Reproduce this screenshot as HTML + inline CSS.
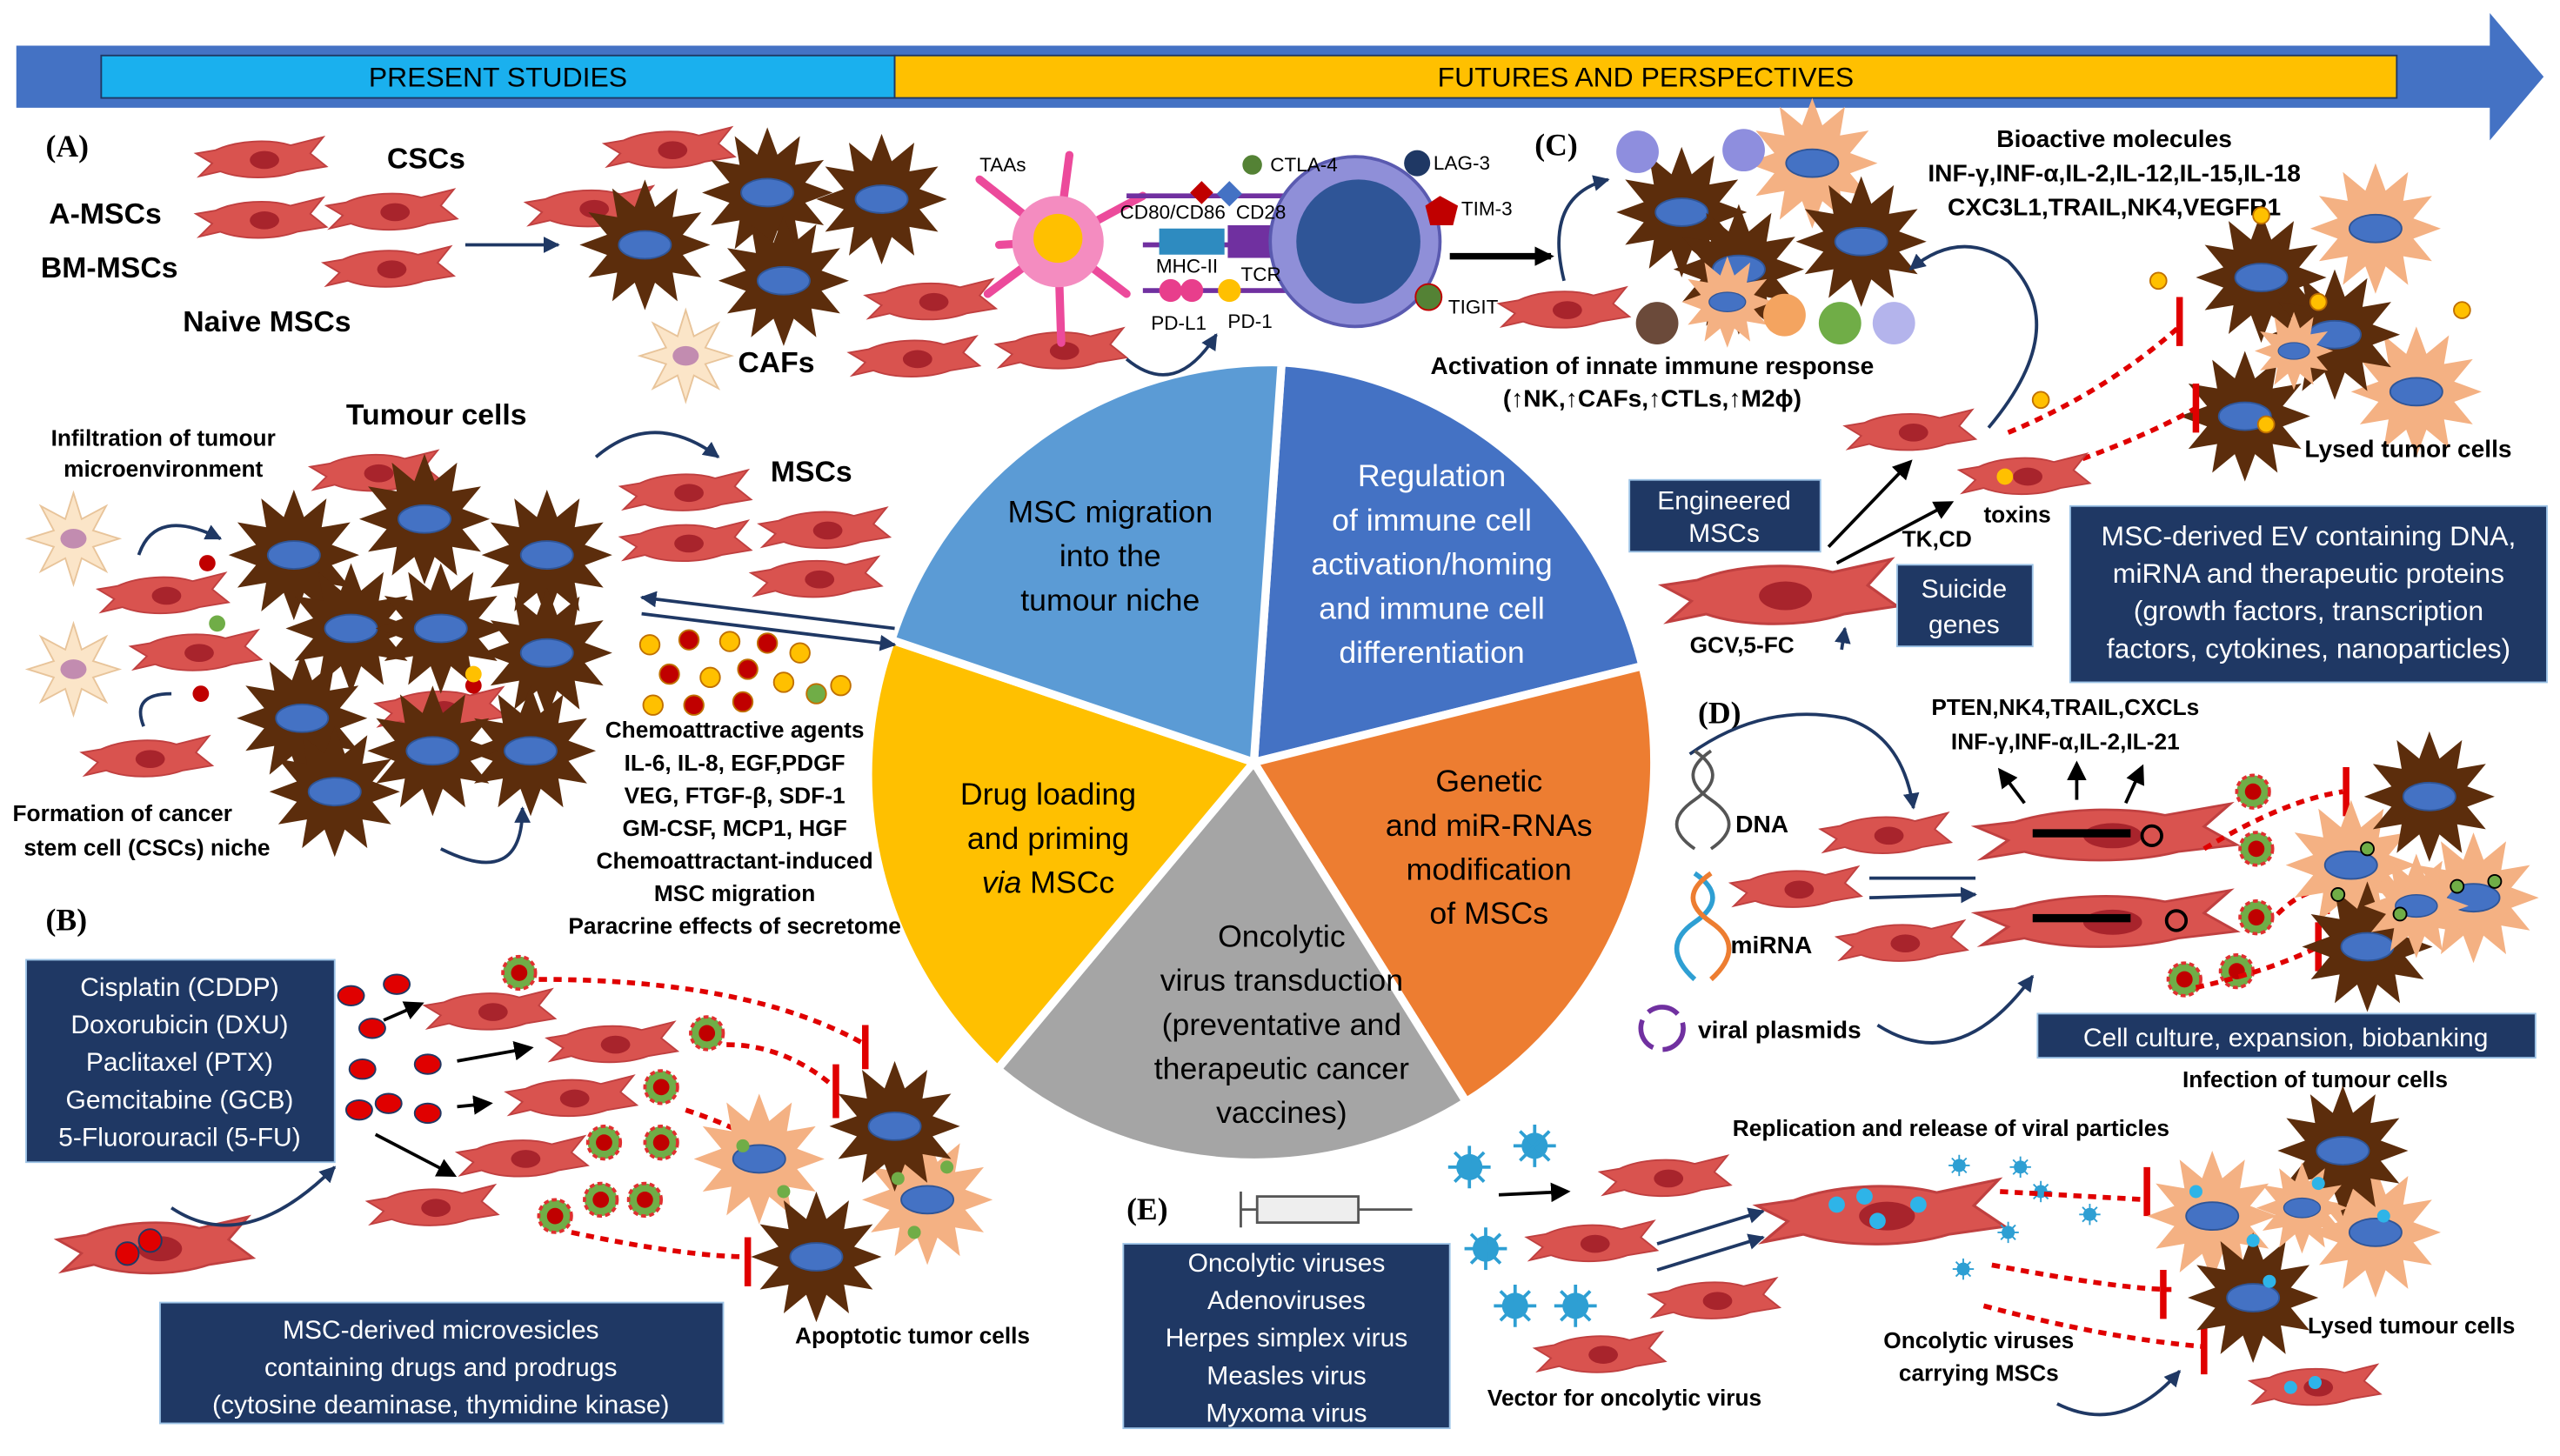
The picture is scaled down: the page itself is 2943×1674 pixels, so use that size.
<!DOCTYPE html>
<html><head><meta charset="utf-8"><style>
html,body{margin:0;padding:0;background:#fff;}
svg{display:block;}
text{font-family:"Liberation Sans Narrow","Liberation Sans",sans-serif;font-weight:bold;fill:#000;}
.w{fill:#fff;font-weight:normal;}
.s{font-size:12px;font-weight:normal;}
</style></head><body>
<svg width="2943" height="1674" viewBox="0 0 1568 892" preserveAspectRatio="none" xmlns="http://www.w3.org/2000/svg">
<defs>
<g id="m"><path d="M-40,-4 L-28,-6 C-15,-12 5,-13 18,-9 L38,-14 L30,-4 L40,4 L22,7 C8,12 -12,12 -25,7 L-38,10 L-30,2Z" fill="#d9534f" stroke="#c04040" stroke-width="1"/><ellipse cx="2" cy="0" rx="9" ry="5.5" fill="#a8242c"/></g>
<g id="t"><polygon points="40,0 23.2,6.2 34.6,20 17,17 20,34.6 6.2,23.2 0,40 -6.2,23.2 -20,34.6 -17,17 -34.6,20 -23.2,6.2 -40,0 -23.2,-6.2 -34.6,-20 -17,-17 -20,-34.6 -6.2,-23.2 0,-40 6.2,-23.2 20,-34.6 17,-17 34.6,-20 23.2,-6.2" fill="#5c2d0c"/><ellipse rx="16" ry="8.5" fill="#4472c4" stroke="#2f5597"/></g>
<g id="c"><polygon points="40,0 23.2,6.2 34.6,20 17,17 20,34.6 6.2,23.2 0,40 -6.2,23.2 -20,34.6 -17,17 -34.6,20 -23.2,6.2 -40,0 -23.2,-6.2 -34.6,-20 -17,-17 -20,-34.6 -6.2,-23.2 0,-40 6.2,-23.2 20,-34.6 17,-17 34.6,-20 23.2,-6.2" fill="#f4b183"/><ellipse rx="16" ry="8.5" fill="#4472c4" stroke="#2f5597"/></g>
<g id="f"><polygon points="28,0 12,5 20,20 5,12 0,28 -5,12 -20,20 -12,5 -28,0 -12,-5 -20,-20 -5,-12 0,-28 5,-12 20,-20 12,-5" fill="#fbe5c8" stroke="#e8c49a"/><ellipse rx="8" ry="6" fill="#c28cb0"/></g>
<g id="v"><circle r="8" fill="#2e9fd3"/><g stroke="#2e9fd3" stroke-width="2"><line x1="-13" y1="0" x2="13" y2="0"/><line x1="0" y1="-13" x2="0" y2="13"/><line x1="-9" y1="-9" x2="9" y2="9"/><line x1="-9" y1="9" x2="9" y2="-9"/></g></g>
<g id="g"><circle r="10" fill="#70ad47" stroke="#e03030" stroke-width="2" stroke-dasharray="3 2"/><circle r="5" fill="#c00000"/></g>
<marker id="a" markerUnits="userSpaceOnUse" markerWidth="10" markerHeight="10" refX="9" refY="5" orient="auto"><path d="M0,0L10,5L0,10Z" fill="#1f3864"/></marker>
<marker id="k" markerUnits="userSpaceOnUse" markerWidth="12" markerHeight="12" refX="10" refY="6" orient="auto"><path d="M0,0L12,6L0,12Z" fill="#000"/></marker>
</defs>

<polygon points="10,28 1525,28 1525,8 1558,47 1525,86 1525,66 10,66" fill="#4472c4"/>
<rect x="62" y="34" width="486" height="26" fill="#1ab0ee" stroke="#1f3864"/>
<rect x="548" y="34" width="920" height="26" fill="#ffc000" stroke="#1f3864"/>
<text x="305" y="53" font-size="17" text-anchor="middle" style="font-weight:normal">PRESENT STUDIES</text>
<text x="1008" y="53" font-size="17" text-anchor="middle" style="font-weight:normal">FUTURES AND PERSPECTIVES</text>

<g stroke="#fff" stroke-width="5">
<path d="M768,467 L785,222 A245,245 0 0 1 1006,408 Z" fill="#4472c4"/>
<path d="M768,467 L1006,408 A245,245 0 0 1 898,675 Z" fill="#ed7d31"/>
<path d="M768,467 L898,675 A245,245 0 0 1 611,655 Z" fill="#a5a5a5"/>
<path d="M768,467 L611,655 A245,245 0 0 1 546,392 Z" fill="#ffc000"/>
<path d="M768,467 L546,392 A245,245 0 0 1 785,222 Z" fill="#5b9bd5"/>
</g>
<g font-size="19" text-anchor="middle" style="font-weight:normal">
<text x="680" y="320" style="font-weight:normal">MSC migration</text><text x="680" y="347" style="font-weight:normal">into the</text><text x="680" y="374" style="font-weight:normal">tumour niche</text>
<text x="877" y="298" class="w" font-size="19">Regulation</text><text x="877" y="325" class="w" font-size="19">of immune cell</text><text x="877" y="352" class="w" font-size="19">activation/homing</text><text x="877" y="379" class="w" font-size="19">and immune cell</text><text x="877" y="406" class="w" font-size="19">differentiation</text>
<text x="912" y="485" style="font-weight:normal">Genetic</text><text x="912" y="512" style="font-weight:normal">and miR-RNAs</text><text x="912" y="539" style="font-weight:normal">modification</text><text x="912" y="566" style="font-weight:normal">of MSCs</text>
<text x="785" y="580" style="font-weight:normal">Oncolytic</text><text x="785" y="607" style="font-weight:normal">virus transduction</text><text x="785" y="634" style="font-weight:normal">(preventative and</text><text x="785" y="661" style="font-weight:normal">therapeutic cancer</text><text x="785" y="688" style="font-weight:normal">vaccines)</text>
<text x="642" y="493" style="font-weight:normal">Drug loading</text><text x="642" y="520" style="font-weight:normal">and priming</text><text x="642" y="547" style="font-weight:normal"><tspan font-style="italic">via</tspan> MSCc</text>
</g>

<text x="28" y="96" font-size="19" style="font-family:'Liberation Serif',serif">(A)</text>
<text x="237" y="103" font-size="18">CSCs</text>
<text x="30" y="137" font-size="18">A-MSCs</text>
<text x="25" y="170" font-size="18">BM-MSCs</text>
<text x="112" y="203" font-size="18">Naive MSCs</text>
<text x="452" y="228" font-size="18">CAFs</text>
<use href="#m" transform="translate(160,98)"/><use href="#m" transform="translate(160,135)"/><use href="#m" transform="translate(240,130)"/><use href="#m" transform="translate(238,165)"/>
<line x1="285" y1="150" x2="342" y2="150" stroke="#1f3864" stroke-width="2" marker-end="url(#a)"/>
<use href="#m" transform="translate(410,92)"/><use href="#m" transform="translate(362,128)"/><use href="#m" transform="translate(570,185)"/><use href="#m" transform="translate(650,215)"/><use href="#m" transform="translate(560,220)"/>
<use href="#t" transform="translate(395,150)"/><use href="#t" transform="translate(470,118)"/><use href="#t" transform="translate(540,122)"/><use href="#t" transform="translate(480,172)"/>
<use href="#f" transform="translate(420,218)"/>
<g stroke="#ec4a9b" stroke-width="5" stroke-linecap="round"><line x1="648" y1="148" x2="600" y2="110"/><line x1="648" y1="148" x2="605" y2="180"/><line x1="648" y1="148" x2="655" y2="95"/><line x1="648" y1="148" x2="650" y2="210"/><line x1="648" y1="148" x2="700" y2="120"/><line x1="648" y1="148" x2="612" y2="150"/><line x1="648" y1="148" x2="690" y2="180"/></g>
<circle cx="648" cy="148" r="28" fill="#f48cc0"/><circle cx="648" cy="146" r="15" fill="#ffc000"/>
<g stroke="#7030a0" stroke-width="3"><line x1="690" y1="120" x2="790" y2="120"/><line x1="700" y1="150" x2="790" y2="150"/><line x1="700" y1="178" x2="790" y2="178"/></g>
<rect x="710" y="140" width="40" height="16" fill="#2e8bc0"/><rect x="752" y="138" width="30" height="20" fill="#7030a0"/>
<circle cx="717" cy="178" r="7" fill="#e83e8c"/><circle cx="730" cy="178" r="7" fill="#e83e8c"/><circle cx="753" cy="178" r="7" fill="#ffc000"/>
<rect x="748" y="113" width="11" height="11" fill="#4472c4" transform="rotate(45 753 118)"/>
<rect x="731" y="113" width="10" height="10" fill="#c00000" transform="rotate(45 736 118)"/>
<circle cx="767" cy="101" r="6" fill="#548235"/>
<circle cx="830" cy="148" r="52" fill="#8f8fd8" stroke="#5a5ab0" stroke-width="2"/><circle cx="832" cy="148" r="38" fill="#2f5597"/>
<circle cx="868" cy="100" r="8" fill="#1f3864"/><polygon points="882,120 893,126 890,138 876,138 873,126" fill="#c00000"/><circle cx="875" cy="182" r="8" fill="#548235" stroke="#c00000"/>
<text x="600" y="105" class="s">TAAs</text><text x="686" y="134" class="s">CD80/CD86</text><text x="757" y="134" class="s">CD28</text><text x="778" y="105" class="s">CTLA-4</text><text x="708" y="167" class="s">MHC-II</text><text x="760" y="172" class="s">TCR</text><text x="705" y="202" class="s">PD-L1</text><text x="752" y="201" class="s">PD-1</text><text x="878" y="104" class="s">LAG-3</text><text x="895" y="132" class="s">TIM-3</text><text x="887" y="192" class="s">TIGIT</text>
<path d="M690,220 Q720,245 745,205" fill="none" stroke="#1f3864" stroke-width="2" marker-end="url(#a)"/>
<line x1="888" y1="157" x2="950" y2="157" stroke="#000" stroke-width="4" marker-end="url(#k)"/>

<text x="940" y="95" font-size="19" style="font-family:'Liberation Serif',serif">(C)</text>
<path d="M958,172 Q945,120 985,110" fill="none" stroke="#1f3864" stroke-width="2" marker-end="url(#a)"/>
<use href="#c" transform="translate(1110,100)"/><use href="#t" transform="translate(1030,130)"/><use href="#t" transform="translate(1140,148)"/><use href="#t" transform="translate(1065,165)"/><use href="#c" transform="translate(1058,185) scale(.7)"/>
<circle cx="1003" cy="93" r="13" fill="#8e8ede"/><circle cx="1068" cy="92" r="13" fill="#8e8ede"/><circle cx="1160" cy="198" r="13" fill="#b4b4ec"/><circle cx="1015" cy="198" r="13" fill="#6b4a3a"/><circle cx="1093" cy="193" r="13" fill="#f4a460"/><circle cx="1127" cy="198" r="13" fill="#70ad47"/>
<use href="#m" transform="translate(958,190)"/>
<text x="1012" y="229" font-size="15" text-anchor="middle">Activation of innate immune response</text>
<text x="1012" y="249" font-size="15" text-anchor="middle">(↑NK,↑CAFs,↑CTLs,↑M2ϕ)</text>
<text x="1295" y="90" font-size="15" text-anchor="middle">Bioactive molecules</text>
<text x="1295" y="111" font-size="15" text-anchor="middle">INF-γ,INF-α,IL-2,IL-12,IL-15,IL-18</text>
<text x="1295" y="132" font-size="15" text-anchor="middle">CXC3L1,TRAIL,NK4,VEGFR1</text>
<path d="M1218,262 Q1270,200 1230,160 Q1200,140 1170,165" fill="none" stroke="#1f3864" stroke-width="2" marker-end="url(#a)"/>
<use href="#c" transform="translate(1455,140)"/><use href="#c" transform="translate(1480,240)"/><use href="#t" transform="translate(1385,170)"/><use href="#t" transform="translate(1430,205)"/><use href="#t" transform="translate(1375,255)"/><use href="#c" transform="translate(1405,215) scale(.6)"/>
<g fill="#ffc000" stroke="#c07000"><circle cx="1322" cy="172" r="5"/><circle cx="1385" cy="132" r="5"/><circle cx="1420" cy="185" r="5"/><circle cx="1508" cy="190" r="5"/><circle cx="1250" cy="245" r="5"/><circle cx="1388" cy="260" r="5"/></g>
<g fill="none" stroke="#e00000" stroke-width="3" stroke-dasharray="5 4"><path d="M1230,265 Q1290,240 1335,200"/><path d="M1250,290 Q1310,270 1345,250"/></g>
<g stroke="#e00000" stroke-width="4"><line x1="1335" y1="182" x2="1335" y2="212"/><line x1="1345" y1="235" x2="1345" y2="265"/></g>
<text x="1475" y="280" font-size="15" text-anchor="middle">Lysed tumor cells</text>
<use href="#m" transform="translate(1170,265)"/><use href="#m" transform="translate(1240,292)"/><circle cx="1228" cy="292" r="5" fill="#ffc000"/>
<text x="1215" y="320" font-size="14">toxins</text>
<text x="1165" y="335" font-size="14">TK,CD</text>
<g stroke="#000" stroke-width="2"><line x1="1120" y1="335" x2="1170" y2="283" marker-end="url(#k)"/><line x1="1125" y1="345" x2="1195" y2="308" marker-end="url(#k)"/></g>
<rect x="998" y="294" width="117" height="44" fill="#1f3864" stroke="#9dc3e6"/><text x="1056" y="312" class="w" font-size="16" text-anchor="middle">Engineered</text><text x="1056" y="332" class="w" font-size="16" text-anchor="middle">MSCs</text>
<g transform="translate(1090,365) scale(1.8,1.6)"><use href="#m"/></g>
<rect x="1162" y="346" width="83" height="50" fill="#1f3864" stroke="#9dc3e6"/><text x="1203" y="366" class="w" font-size="16" text-anchor="middle">Suicide</text><text x="1203" y="388" class="w" font-size="16" text-anchor="middle">genes</text>
<text x="1035" y="400" font-size="14">GCV,5-FC</text>
<rect x="1268" y="310" width="292" height="108" fill="#1f3864" stroke="#9dc3e6"/>
<g class="w" font-size="17" text-anchor="middle"><text x="1414" y="334" class="w">MSC-derived EV containing DNA,</text><text x="1414" y="357" class="w">miRNA and therapeutic proteins</text><text x="1414" y="380" class="w">(growth factors, transcription</text><text x="1414" y="403" class="w">factors, cytokines, nanoparticles)</text></g>

<text x="212" y="260" font-size="18">Tumour cells</text>
<text x="100" y="273" font-size="14" text-anchor="middle">Infiltration of tumour</text><text x="100" y="292" font-size="14" text-anchor="middle">microenvironment</text>
<text x="472" y="295" font-size="18">MSCs</text>
<path d="M365,280 Q400,250 440,280" fill="none" stroke="#1f3864" stroke-width="2" marker-end="url(#a)"/>
<use href="#m" transform="translate(230,290)"/><use href="#m" transform="translate(420,302)"/><use href="#m" transform="translate(505,325)"/><use href="#m" transform="translate(420,333)"/><use href="#m" transform="translate(500,355)"/><use href="#m" transform="translate(100,365)"/><use href="#m" transform="translate(120,400)"/><use href="#m" transform="translate(90,465)"/><use href="#m" transform="translate(270,435)"/>
<use href="#t" transform="translate(180,340)"/><use href="#t" transform="translate(260,318)"/><use href="#t" transform="translate(335,340)"/><use href="#t" transform="translate(215,385)"/><use href="#t" transform="translate(270,385)"/><use href="#t" transform="translate(335,400)"/><use href="#t" transform="translate(185,440)"/><use href="#t" transform="translate(325,460)"/><use href="#t" transform="translate(205,485)"/><use href="#t" transform="translate(265,460)"/>
<use href="#f" transform="translate(45,330)"/><use href="#f" transform="translate(45,410)"/>
<path d="M85,340 Q95,310 135,330" fill="none" stroke="#1f3864" stroke-width="2" marker-end="url(#a)"/>
<path d="M88,445 Q80,425 105,425" fill="none" stroke="#1f3864" stroke-width="2"/>
<path d="M270,520 Q320,545 320,495" fill="none" stroke="#1f3864" stroke-width="2" marker-end="url(#a)"/>
<g fill="#c00000"><circle cx="127" cy="345" r="5"/><circle cx="123" cy="425" r="5"/><circle cx="290" cy="420" r="5"/></g><circle cx="133" cy="382" r="5" fill="#70ad47"/><circle cx="290" cy="413" r="5" fill="#ffc000"/>
<text x="75" y="503" font-size="14" text-anchor="middle">Formation of cancer</text><text x="90" y="524" font-size="14" text-anchor="middle">stem cell (CSCs) niche</text>
<line x1="548" y1="385" x2="393" y2="366" stroke="#1f3864" stroke-width="2" marker-end="url(#a)"/><line x1="393" y1="376" x2="548" y2="395" stroke="#1f3864" stroke-width="2" marker-end="url(#a)"/>
<g stroke="#c07000" stroke-width="1"><circle cx="398" cy="395" r="6" fill="#ffc000"/><circle cx="422" cy="392" r="6" fill="#c00000"/><circle cx="447" cy="393" r="6" fill="#ffc000"/><circle cx="470" cy="394" r="6" fill="#c00000"/><circle cx="490" cy="400" r="6" fill="#ffc000"/><circle cx="410" cy="413" r="6" fill="#c00000"/><circle cx="435" cy="415" r="6" fill="#ffc000"/><circle cx="458" cy="410" r="6" fill="#c00000"/><circle cx="480" cy="418" r="6" fill="#ffc000"/><circle cx="500" cy="425" r="6" fill="#70ad47"/><circle cx="400" cy="432" r="6" fill="#ffc000"/><circle cx="425" cy="432" r="6" fill="#c00000"/><circle cx="455" cy="430" r="6" fill="#c00000"/><circle cx="515" cy="420" r="6" fill="#ffc000"/></g>
<g font-size="14" text-anchor="middle"><text x="450" y="452">Chemoattractive agents</text><text x="450" y="472">IL-6, IL-8, EGF,PDGF</text><text x="450" y="492">VEG, FTGF-β, SDF-1</text><text x="450" y="512">GM-CSF, MCP1, HGF</text><text x="450" y="532">Chemoattractant-induced</text><text x="450" y="552">MSC migration</text><text x="450" y="572">Paracrine effects of secretome</text></g>

<text x="28" y="570" font-size="19" style="font-family:'Liberation Serif',serif">(B)</text>
<rect x="16" y="588" width="189" height="124" fill="#1f3864" stroke="#9dc3e6"/>
<g font-size="16" text-anchor="middle"><text x="110" y="610" class="w">Cisplatin (CDDP)</text><text x="110" y="633" class="w">Doxorubicin (DXU)</text><text x="110" y="656" class="w">Paclitaxel (PTX)</text><text x="110" y="679" class="w">Gemcitabine (GCB)</text><text x="110" y="702" class="w">5-Fluorouracil (5-FU)</text></g>
<g fill="#e00000" stroke="#1f3864"><ellipse cx="215" cy="610" rx="8" ry="6"/><ellipse cx="243" cy="603" rx="8" ry="6"/><ellipse cx="228" cy="630" rx="8" ry="6"/><ellipse cx="222" cy="655" rx="8" ry="6"/><ellipse cx="262" cy="652" rx="8" ry="6"/><ellipse cx="220" cy="680" rx="8" ry="6"/><ellipse cx="238" cy="676" rx="8" ry="6"/><ellipse cx="262" cy="682" rx="8" ry="6"/></g>
<g stroke="#000" stroke-width="2"><line x1="235" y1="625" x2="258" y2="615" marker-end="url(#k)"/><line x1="280" y1="650" x2="325" y2="642" marker-end="url(#k)"/><line x1="280" y1="678" x2="300" y2="676" marker-end="url(#k)"/><line x1="230" y1="695" x2="278" y2="720" marker-end="url(#k)"/></g>
<use href="#m" transform="translate(300,620)"/><use href="#m" transform="translate(375,640)"/><use href="#m" transform="translate(350,673)"/><use href="#m" transform="translate(320,710)"/><use href="#m" transform="translate(265,740)"/>
<use href="#g" transform="translate(318,596)"/><use href="#g" transform="translate(433,633)"/><use href="#g" transform="translate(405,666)"/><use href="#g" transform="translate(370,700)"/><use href="#g" transform="translate(405,700)"/><use href="#g" transform="translate(340,745)"/><use href="#g" transform="translate(368,735)"/><use href="#g" transform="translate(395,735)"/>
<g fill="none" stroke="#e00000" stroke-width="3" stroke-dasharray="5 4"><path d="M330,600 Q460,600 530,640"/><path d="M445,640 Q480,640 510,665"/><path d="M420,680 Q450,690 465,700"/><path d="M350,755 Q420,770 460,770"/></g>
<g stroke="#e00000" stroke-width="4"><line x1="530" y1="628" x2="530" y2="655"/><line x1="512" y1="652" x2="512" y2="685"/><line x1="465" y1="682" x2="465" y2="712"/><line x1="458" y1="758" x2="458" y2="788"/></g>
<use href="#c" transform="translate(465,710)"/><use href="#c" transform="translate(568,735)"/><use href="#t" transform="translate(548,690)"/><use href="#t" transform="translate(500,770)"/>
<g fill="#70ad47"><circle cx="455" cy="702" r="4"/><circle cx="480" cy="730" r="4"/><circle cx="550" cy="722" r="4"/><circle cx="580" cy="715" r="4"/><circle cx="560" cy="755" r="4"/></g>
<text x="487" y="823" font-size="14">Apoptotic tumor cells</text>
<g transform="translate(95,765) scale(1.5,1.4)"><use href="#m"/></g><circle cx="78" cy="768" r="7" fill="#e00000" stroke="#1f3864"/><circle cx="92" cy="760" r="7" fill="#e00000" stroke="#1f3864"/>
<path d="M105,740 Q150,770 205,715" fill="none" stroke="#1f3864" stroke-width="2" marker-end="url(#a)"/>
<rect x="98" y="798" width="345" height="74" fill="#1f3864" stroke="#9dc3e6"/>
<g font-size="16" text-anchor="middle"><text x="270" y="820" class="w">MSC-derived microvesicles</text><text x="270" y="843" class="w">containing drugs and prodrugs</text><text x="270" y="866" class="w">(cytosine deaminase, thymidine kinase)</text></g>

<text x="1040" y="443" font-size="19" style="font-family:'Liberation Serif',serif">(D)</text>
<path d="M1035,462 Q1080,430 1130,440 Q1165,450 1172,495" fill="none" stroke="#1f3864" stroke-width="2" marker-end="url(#a)"/>
<path d="M1128,398 L1130,385" stroke="#1f3864" stroke-width="2" marker-end="url(#a)" fill="none"/>
<g stroke="#555" stroke-width="2" fill="none"><path d="M1038,460 Q1060,475 1038,490 Q1016,505 1038,520"/><path d="M1048,460 Q1026,475 1048,490 Q1070,505 1048,520"/></g>
<g stroke-width="3" fill="none"><path d="M1038,535 Q1060,550 1038,565 Q1016,580 1038,600" stroke="#2e9fd3"/><path d="M1048,535 Q1026,550 1048,565 Q1070,580 1048,600" stroke="#ed7d31"/></g>
<text x="1063" y="510" font-size="15">DNA</text><text x="1060" y="584" font-size="15">miRNA</text>
<circle cx="1018" cy="630" r="13" fill="none" stroke="#7030a0" stroke-width="3" stroke-dasharray="20 6"/>
<text x="1040" y="636" font-size="15">viral plasmids</text>
<use href="#m" transform="translate(1155,512)"/><use href="#m" transform="translate(1100,545)"/><use href="#m" transform="translate(1165,578)"/>
<g stroke="#1f3864" stroke-width="2"><line x1="1145" y1="538" x2="1210" y2="538"/><line x1="1145" y1="550" x2="1210" y2="548" marker-end="url(#a)"/></g>
<path d="M1150,628 Q1200,660 1245,598" fill="none" stroke="#1f3864" stroke-width="2" marker-end="url(#a)"/>
<text x="1265" y="438" font-size="14" text-anchor="middle">PTEN,NK4,TRAIL,CXCLs</text>
<text x="1265" y="459" font-size="14" text-anchor="middle">INF-γ,INF-α,IL-2,IL-21</text>
<g stroke="#000" stroke-width="2"><line x1="1240" y1="492" x2="1225" y2="472" marker-end="url(#k)"/><line x1="1272" y1="490" x2="1272" y2="468" marker-end="url(#k)"/><line x1="1302" y1="492" x2="1312" y2="470" marker-end="url(#k)"/></g>
<g transform="translate(1290,512) scale(2,1.4)"><use href="#m"/></g><g transform="translate(1290,565) scale(2,1.4)"><use href="#m"/></g>
<g fill="#000"><rect x="1245" y="508" width="60" height="5"/><rect x="1245" y="560" width="60" height="5"/></g>
<circle cx="1318" cy="512" r="6" fill="none" stroke="#000" stroke-width="2"/><circle cx="1333" cy="564" r="6" fill="none" stroke="#000" stroke-width="2"/>
<use href="#g" transform="translate(1380,485)"/><use href="#g" transform="translate(1382,520)"/><use href="#g" transform="translate(1382,562)"/><use href="#g" transform="translate(1338,600)"/><use href="#g" transform="translate(1370,595)"/>
<g fill="none" stroke="#e00000" stroke-width="3" stroke-dasharray="5 4"><path d="M1350,520 Q1400,490 1435,485"/><path d="M1395,560 Q1410,545 1425,545"/><path d="M1345,605 Q1390,595 1420,580"/></g>
<g stroke="#e00000" stroke-width="4"><line x1="1437" y1="470" x2="1437" y2="500"/><line x1="1425" y1="530" x2="1425" y2="560"/><line x1="1420" y1="565" x2="1420" y2="595"/></g>
<use href="#c" transform="translate(1440,530)"/><use href="#c" transform="translate(1515,550)"/><use href="#t" transform="translate(1488,488)"/><use href="#t" transform="translate(1450,580)"/><use href="#c" transform="translate(1480,555) scale(.8)"/>
<g fill="#70ad47" stroke="#000"><circle cx="1432" cy="548" r="4"/><circle cx="1450" cy="520" r="4"/><circle cx="1505" cy="543" r="4"/><circle cx="1528" cy="540" r="4"/><circle cx="1470" cy="560" r="4"/></g>
<rect x="1248" y="621" width="305" height="27" fill="#1f3864" stroke="#9dc3e6"/><text x="1400" y="641" class="w" font-size="16" text-anchor="middle">Cell culture, expansion, biobanking</text>
<text x="1418" y="666" font-size="14" text-anchor="middle">Infection of tumour cells</text>

<text x="690" y="747" font-size="19" style="font-family:'Liberation Serif',serif">(E)</text>
<g stroke="#555" stroke-width="1.5" fill="#eee"><rect x="770" y="733" width="62" height="16"/><line x1="832" y1="741" x2="865" y2="741"/><line x1="760" y1="741" x2="770" y2="741"/><line x1="760" y1="730" x2="760" y2="752"/></g>
<use href="#v" transform="translate(900,715)"/><use href="#v" transform="translate(940,702)"/><use href="#v" transform="translate(910,765)"/><use href="#v" transform="translate(928,800)"/><use href="#v" transform="translate(965,800)"/>
<line x1="918" y1="732" x2="960" y2="730" stroke="#000" stroke-width="2" marker-end="url(#k)"/>
<use href="#m" transform="translate(1020,722)"/><use href="#m" transform="translate(975,762)"/><use href="#m" transform="translate(1050,797)"/><use href="#m" transform="translate(980,830)"/>
<g stroke="#1f3864" stroke-width="2"><line x1="1015" y1="762" x2="1080" y2="742" marker-end="url(#a)"/><line x1="1015" y1="778" x2="1080" y2="758" marker-end="url(#a)"/></g>
<text x="995" y="861" font-size="14" text-anchor="middle">Vector for oncolytic virus</text>
<text x="1195" y="696" font-size="14" text-anchor="middle">Replication and release of viral particles</text>
<g transform="translate(1152,745) scale(1.9,1.6)"><use href="#m"/></g>
<g fill="#2eb4e8"><circle cx="1125" cy="738" r="5"/><circle cx="1142" cy="733" r="5"/><circle cx="1150" cy="748" r="5"/><circle cx="1175" cy="738" r="5"/></g>
<g transform="scale(.5)"><use href="#v" transform="translate(2400,1428)"/><use href="#v" transform="translate(2475,1430)"/><use href="#v" transform="translate(2500,1460)"/><use href="#v" transform="translate(2560,1488)"/><use href="#v" transform="translate(2405,1555)"/><use href="#v" transform="translate(2460,1510)"/></g>
<g fill="none" stroke="#e00000" stroke-width="3" stroke-dasharray="5 4"><path d="M1225,730 L1315,735"/><path d="M1220,775 Q1300,790 1330,790"/><path d="M1215,800 Q1290,820 1350,825"/></g>
<g stroke="#e00000" stroke-width="4"><line x1="1315" y1="715" x2="1315" y2="745"/><line x1="1325" y1="778" x2="1325" y2="808"/><line x1="1350" y1="812" x2="1350" y2="842"/></g>
<use href="#c" transform="translate(1355,745)"/><use href="#c" transform="translate(1455,755)"/><use href="#t" transform="translate(1435,705)"/><use href="#t" transform="translate(1380,795)"/><use href="#c" transform="translate(1410,740) scale(.7)"/>
<g fill="#2eb4e8"><circle cx="1345" cy="730" r="4"/><circle cx="1380" cy="760" r="4"/><circle cx="1420" cy="725" r="4"/><circle cx="1460" cy="745" r="4"/><circle cx="1390" cy="785" r="4"/></g>
<text x="1477" y="817" font-size="14" text-anchor="middle">Lysed tumour cells</text>
<text x="1212" y="826" font-size="14" text-anchor="middle">Oncolytic viruses</text><text x="1212" y="846" font-size="14" text-anchor="middle">carrying MSCs</text>
<path d="M1260,860 Q1300,880 1335,840" fill="none" stroke="#1f3864" stroke-width="2" marker-end="url(#a)"/>
<use href="#m" transform="translate(1418,850)"/><circle cx="1403" cy="850" r="4" fill="#2eb4e8"/><circle cx="1418" cy="847" r="4" fill="#2eb4e8"/>
<rect x="688" y="762" width="200" height="113" fill="#1f3864" stroke="#9dc3e6"/>
<g font-size="16" text-anchor="middle"><text x="788" y="779" class="w">Oncolytic viruses</text><text x="788" y="802" class="w">Adenoviruses</text><text x="788" y="825" class="w">Herpes simplex virus</text><text x="788" y="848" class="w">Measles virus</text><text x="788" y="871" class="w">Myxoma virus</text></g>
</svg>
</body></html>
